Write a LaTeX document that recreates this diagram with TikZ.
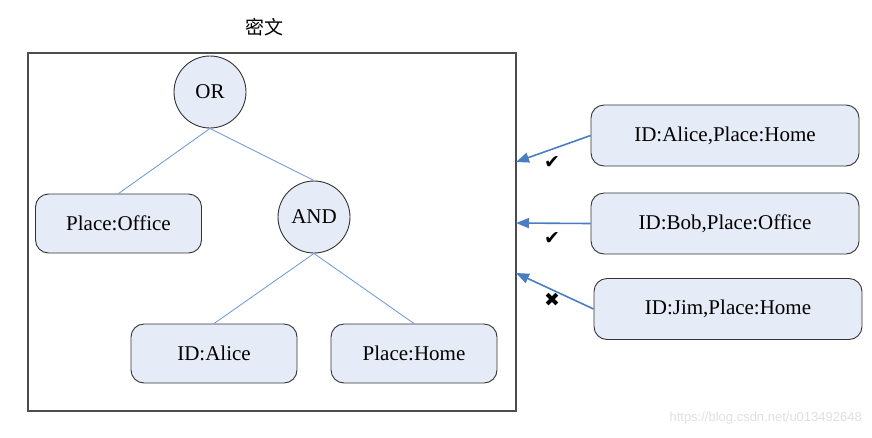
\documentclass[tikz,border=0pt]{standalone}
\usepackage{fontspec}
\setmainfont{Liberation Serif}
\newfontfamily\cjk{Noto Sans CJK SC}
\newfontfamily\symfont{DejaVu Sans}
\newfontfamily\wmfont{Liberation Sans}
\usetikzlibrary{arrows.meta}
\definecolor{nodefill}{HTML}{E6ECF7}
\definecolor{treeline}{HTML}{6A97D8}
\definecolor{arrowblue}{HTML}{4A7EC4}
\tikzset{
  lbl/.style={font=\fontsize{21}{24}\selectfont},
  opnode/.style={circle, draw=black!80, line width=0.9pt, fill=nodefill, minimum size=72pt, inner sep=0pt, lbl},
  attrbox/.style={rectangle, rounded corners=13pt, draw=black!80, line width=0.9pt, fill=nodefill, minimum width=166pt, minimum height=59pt, inner sep=0pt, lbl},
  userbox/.style={rectangle, rounded corners=13pt, draw=black!80, line width=0.9pt, fill=nodefill, minimum width=268pt, minimum height=61pt, inner sep=0pt, lbl},
  treeedge/.style={draw=treeline, line width=0.8pt},
  query/.style={draw=arrowblue, line width=1.6pt, -{Triangle[length=13pt,width=10pt]}},
  chk/.style={font=\symfont\fontsize{19}{19}\selectfont, inner sep=0pt}
}
\begin{document}
\begin{tikzpicture}[x=1pt,y=-1pt]
\useasboundingbox (0,0) rectangle (872,437);
\fill[white] (0,0) rectangle (872,437);
% frame
\node[draw=black!70, line width=1.4pt, minimum width=488pt, minimum height=358pt, inner sep=0pt] (frame) at (272,232) {};
\node[font=\cjk\fontsize{19}{22}\selectfont] (title) at (264,27) {密文};
% tree
\node[opnode] (or) at (210,92) {OR};
\node[opnode] (and) at (314,217) {AND};
\node[attrbox] (office) at (118.5,223.5) {Place:Office};
\node[attrbox] (alice) at (214,353.5) {ID:Alice};
\node[attrbox] (home) at (414,353.5) {Place:Home};
\draw[treeedge] (or.south) -- (office.north);
\draw[treeedge] (or.south) -- (and.north);
\draw[treeedge] (and.south) -- (alice.north);
\draw[treeedge] (and.south) -- (home.north);
% users
\node[userbox] (u1) at (725,135.5) {ID:Alice,Place:Home};
\node[userbox] (u2) at (725,223.5) {ID:Bob,Place:Office};
\node[userbox] (u3) at (728,309) {ID:Jim,Place:Home};
\coordinate (t1) at (516,162);
\coordinate (t2) at (516,223);
\coordinate (t3) at (516,273);
\draw[query] (u1.west) -- (t1);
\draw[query] (u2.west) -- (t2);
\draw[query] (u3.west) -- (t3);
\node[chk] (m1) at (552,163) {✔};
\node[chk] (m2) at (552,238) {✔};
\node[chk] (m3) at (552,300) {✖};
% watermark
\node[font=\wmfont\fontsize{13}{15}\selectfont, text=black!12, anchor=east, inner sep=0pt] (wm) at (862,418) {https://blog.csdn.net/u013492648};
\end{tikzpicture}
\end{document}
